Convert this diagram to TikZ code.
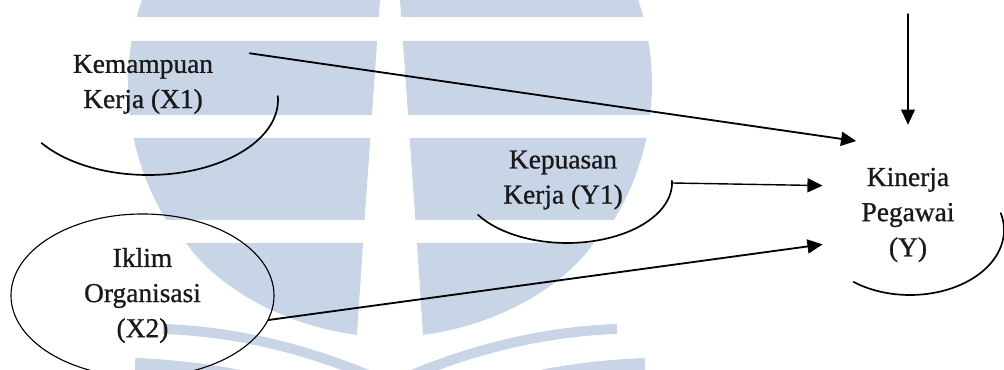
\documentclass[tikz,border=0pt]{standalone}
\usepackage{fontspec}
\setmainfont{Liberation Serif}
\newfontfamily\labelfont[FakeBold=0.9]{Liberation Serif}
\usetikzlibrary{arrows.meta,shapes.geometric,calc}
\definecolor{logoblue}{RGB}{200,213,231}

\begin{document}
\begin{tikzpicture}[cap=round]
        % Styles
        \tikzstyle{logo}=[fill=logoblue,draw=none]
        \tikzstyle{logo arc}=[draw=logoblue,line cap=butt]
        \tikzstyle{variable text}=[align=center,inner sep=0pt,text=black!90,font=\labelfont\fontsize{19.5}{25}\selectfont]
        \tikzstyle{half ring}=[line width=1.2pt]
        \tikzstyle{link line}=[line width=1.3pt,-{Triangle[length=0.38cm,width=0.35cm]}]
        \useasboundingbox (0,0) rectangle (25.1,9.25);
        %background logo (pixel units, mirrored halves)
        \begin{scope}[x=0.025cm,y=-0.025cm,yshift=9.25cm,xshift=9.75cm]
            \foreach \s in {1,-1} {
            \begin{scope}[xscale=\s]
                \begin{scope}
                    \clip (0,84) circle (262);
                    \foreach \ya/\yb in {-10/17,41/115,138/220}
                    \fill[logo] (10+0.07*\ya,\ya) -- (300,\ya) -- (300,\yb) -- (10+0.07*\yb,\yb) -- cycle;
                \end{scope}
                \fill[logo] (27,243) -- (204,243) .. controls (175,285) and (110,325) .. (33,335) -- cycle;
                \draw[logo arc,line width=0.25cm] (10,380) .. controls (80,350) and (150,332) .. (227,329);
                \draw[logo arc,line width=0.3cm] (90,392) .. controls (150,372) and (210,366) .. (255,364);
            \end{scope}}
        \end{scope}
        %variables
        \node[variable text] (x1) at (3.575,7.14) {Kemampuan\\Kerja (X1)};
        \node[variable text] (y1) at (14.075,4.75) {Kepuasan\\Kerja (Y1)};
        \node[variable text,circle,minimum size=4.5cm] (y) at (22.7,3.875) {Kinerja\\Pegawai\\(Y)};
        \node[variable text,ellipse,draw,line width=0.8pt,minimum width=6.575cm,minimum height=4.075cm] (x2) at (3.5625,1.8625) {Iklim\\Organisasi\\(X2)};
        %open rings under the labels
        \coordinate (x1c) at ($(x1)+(0.125,-0.39)$);
        \coordinate (y1c) at ($(y1)+(0.1,-0.075)$);
        \coordinate (yc) at ($(y)+(0.05,-0.375)$);
        \draw[half ring] ($(x1c)+(215:3.25cm and 1.875cm)$) arc[start angle=215,end angle=363,x radius=3.25cm,y radius=1.875cm];
        \draw[half ring] ($(y1c)+(212:2.625cm and 1.5cm)$) arc[start angle=212,end angle=362,x radius=2.625cm,y radius=1.5cm];
        \draw[half ring] ($(yc)+(233:2.35cm and 1.625cm)$) arc[start angle=233,end angle=375,x radius=2.35cm,y radius=1.625cm];
        %arrows
        \coordinate (top) at (22.7,8.9);
        \draw[link line] ($(x1c)+(38.5:3.25cm and 1.875cm)$) -- (y.125);
        \draw[link line,line width=1pt] ($(y1c)+(0:2.625cm and 1.5cm)$) -- (y.161);
        \draw[link line] (x2.-11) -- (y.199);
        \draw[link line,line width=1pt] (top) -- (y.north);
\end{tikzpicture}
\end{document}
